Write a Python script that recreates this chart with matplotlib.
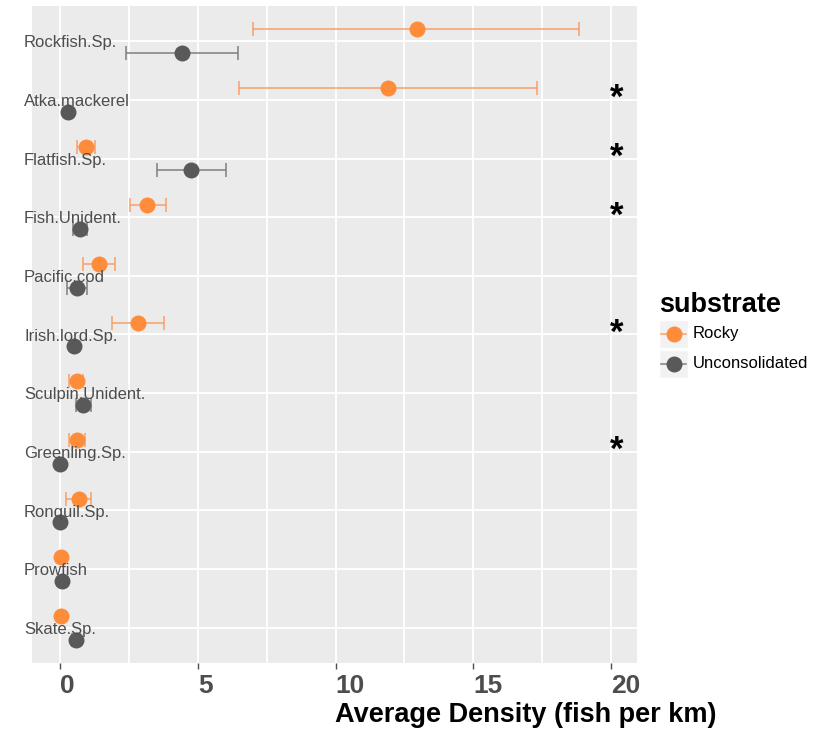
import numpy as np
import matplotlib
matplotlib.use("Agg")
import matplotlib.pyplot as plt
from matplotlib.lines import Line2D
from matplotlib.patches import Rectangle
import matplotlib.transforms as mtransforms

plt.rcParams['font.family'] = ['Liberation Sans', 'DejaVu Sans']

species = ['Rockfish.Sp.', 'Atka.mackerel', 'Flatfish.Sp.', 'Fish.Unident.',
           'Pacific.cod', 'Irish.lord.Sp.', 'Sculpin.Unident.', 'Greenling.Sp.',
           'Ronquil.Sp.', 'Prowfish', 'Skate.Sp.']

# mean density and error bar limits per substrate
rocky_mean = [12.95, 11.89, 0.93, 3.17, 1.43, 2.84, 0.61, 0.61, 0.69, 0.04, 0.04]
rocky_lo = [7.00, 6.50, 0.63, 2.53, 0.85, 1.88, 0.33, 0.33, 0.22, 0.04, 0.04]
rocky_hi = [18.84, 17.30, 1.27, 3.84, 2.01, 3.79, 0.85, 0.91, 1.13, 0.04, 0.04]

uncon_mean = [4.42, 0.28, 4.75, 0.73, 0.61, 0.51, 0.85, 0.00, 0.00, 0.06, 0.58]
uncon_lo = [2.38, 0.28, 3.51, 0.48, 0.24, 0.51, 0.58, 0.00, 0.00, 0.06, 0.45]
uncon_hi = [6.45, 0.28, 6.03, 0.99, 0.99, 0.51, 1.11, 0.00, 0.00, 0.06, 0.72]

# species with a significant difference between substrates
signif = ['Atka.mackerel', 'Flatfish.Sp.', 'Fish.Unident.', 'Irish.lord.Sp.', 'Greenling.Sp.']

ORANGE = '#FF8C3B'
ORANGE_BAR = '#F9A066'
GREY = '#595959'
GREY_BAR = '#7F7F7F'

fig = plt.figure(figsize=(8.16, 7.32), dpi=100)
W, H = 816, 732
ax = fig.add_axes([32 / W, 1 - 663 / H, 605 / W, 657 / H])
ax.set_facecolor('#EBEBEB')
for s in ax.spines.values():
    s.set_visible(False)

n = len(species)
ypos = np.arange(n, 0, -1).astype(float)   # first species at the top
dodge = 0.2

def draw_group(mean, lo, hi, offset, c_pt, c_bar):
    mean = np.array(mean)
    y = ypos + offset
    xerr = np.vstack([mean - np.array(lo), np.array(hi) - mean])
    ax.errorbar(mean, y, xerr=xerr, fmt='none', ecolor=c_bar, elinewidth=1.1,
                capsize=5, capthick=1.1, zorder=3)
    ax.plot(mean, y, 'o', color=c_pt, markersize=11.5, markeredgewidth=0, zorder=4)

draw_group(rocky_mean, rocky_lo, rocky_hi, dodge, ORANGE, ORANGE_BAR)
draw_group(uncon_mean, uncon_lo, uncon_hi, -dodge, GREY, GREY_BAR)

ax.set_xlim(-1.016, 20.94)
ax.set_ylim(0.4, n + 0.6)

ax.set_xticks([0, 5, 10, 15, 20])
ax.set_xticks([2.5, 7.5, 12.5, 17.5], minor=True)
ax.set_xticklabels(['0', '5', '10', '15', '20'], fontsize=19, fontweight='bold',
                   color='#4D4D4D', ha='left')
ax.tick_params(axis='x', which='major', length=4, width=1, color='#4D4D4D', pad=4)
ax.tick_params(axis='x', which='minor', length=0)
ax.set_yticks(ypos)
ax.set_yticklabels([])
ax.tick_params(axis='y', length=0)
ax.grid(True, which='both', axis='x', color='white', lw=1.3)
ax.grid(True, which='major', axis='y', color='white', lw=1.3)
ax.set_axisbelow(True)

# species names sit inside the panel, left-aligned
trans = mtransforms.blended_transform_factory(ax.transAxes, ax.transData)
for name, y in zip(species, ypos):
    ax.text(-0.0132, y - 0.03, name, transform=trans, ha='left', va='center',
            fontsize=12, color='#4D4D4D', zorder=5, clip_on=False)
    if name in signif:
        ax.text(20.2, y + 0.02, '*', ha='center', va='center', fontsize=25,
                fontweight='bold', color='black', zorder=5)

fig.text(335 / W, 1 - 715 / H, 'Average Density (fish per km)', ha='left',
         va='center', fontsize=19.5, fontweight='bold', color='black')

# legend
fig.text(659 / W, 1 - 305 / H, 'substrate', ha='left', va='center',
         fontsize=19.5, fontweight='bold', color='black')
for i, (lab, c_pt, c_bar) in enumerate([('Rocky', ORANGE, ORANGE_BAR),
                                         ('Unconsolidated', GREY, GREY_BAR)]):
    top = 320 + 30 * i
    fig.add_artist(Rectangle((659 / W, 1 - (top + 28) / H), 29 / W, 28 / H,
                             transform=fig.transFigure, facecolor='#F2F2F2',
                             edgecolor='white', lw=1))
    yc = 1 - (top + 14) / H
    fig.add_artist(Line2D([661 / W, 686 / W], [yc, yc], transform=fig.transFigure,
                          color=c_bar, lw=1.1))
    fig.add_artist(Line2D([673.5 / W], [yc], transform=fig.transFigure, marker='o',
                          markersize=11.5, color=c_pt, markeredgewidth=0))
    fig.text(693 / W, yc, lab, ha='left', va='center', fontsize=12, color='black')

fig.savefig('out.png', dpi=100)
